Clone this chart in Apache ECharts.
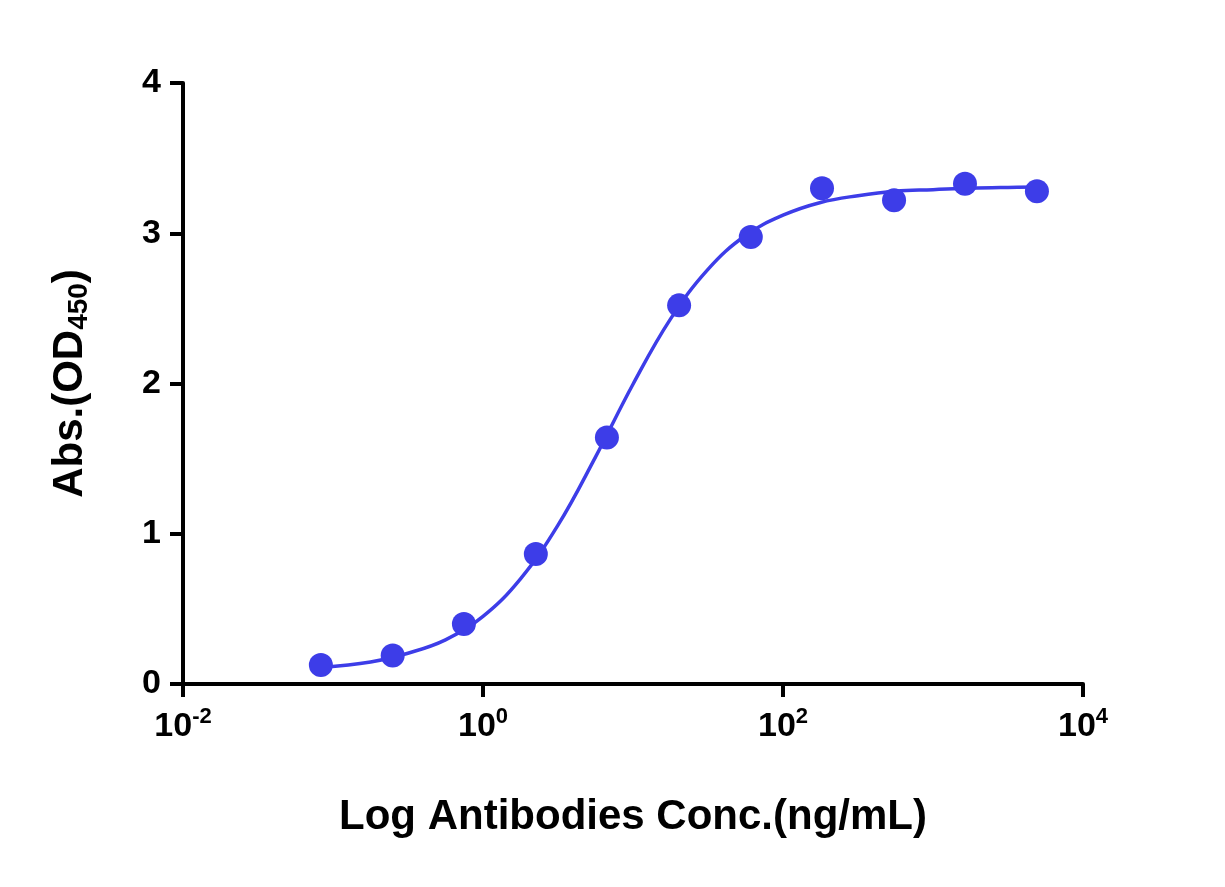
<!DOCTYPE html>
<html><head><meta charset="utf-8">
<script src="https://cdn.jsdelivr.net/npm/echarts@6/dist/echarts.min.js"></script>
<style>html,body{margin:0;padding:0;background:#fff}#c{width:1225px;height:887px}</style>
</head><body><div id="c"></div>
<script>
const concX = [0.083, 0.25, 0.746, 2.25, 6.7, 20.3, 61, 182, 550, 1634, 4930];
const absY = [0.126, 0.19, 0.40, 0.865, 1.64, 2.52, 2.975, 3.30, 3.22, 3.33, 3.28];
const curveX = [0.083, 0.178, 0.316, 0.562, 1, 1.778, 3.162, 5.62, 10, 17.8, 31.6, 56.2, 100, 178, 316, 562, 1000, 1778, 3162, 4930];
const curveY = [0.11, 0.147, 0.205, 0.294, 0.45, 0.70, 1.057, 1.51, 1.995, 2.43, 2.76, 2.985, 3.12, 3.205, 3.25, 3.28, 3.29, 3.30, 3.305, 3.307];
const yTicks = [0, 1, 2, 3, 4];
const color = '#3d3de8';
const font = 'Liberation Sans, Arial, sans-serif';
const chart = echarts.init(document.getElementById('c'));
chart.setOption({
  animation: false,
  grid: {left: 183, right: 142, top: 83, bottom: 203, containLabel: false},
  xAxis: {
    type: 'log', logBase: 10, min: 0.01, max: 10000, interval: 2,
    name: 'Log Antibodies Conc.(ng/mL)', nameLocation: 'middle', nameGap: 112,
    nameTextStyle: {fontSize: 42, fontWeight: 'bold', color: '#000', fontFamily: font},
    axisLine: {lineStyle: {color: '#000', width: 4}},
    axisTick: {length: 13, lineStyle: {width: 4, color: '#000'}},
    minorTick: {show: false}, splitLine: {show: false},
    axisLabel: {margin: 22, formatter: v => '{b|10}{s|' + Math.round(Math.log10(v)) + '}',
      rich: {b: {fontSize: 34, fontWeight: 'bold', color: '#000', fontFamily: font},
             s: {fontSize: 22, fontWeight: 'bold', color: '#000', fontFamily: font, verticalAlign: 'top', padding: [0,0,20,0]}}}
  },
  yAxis: {
    type: 'value', min: 0, max: 4, interval: 1,
    name: '{b|Abs.(OD}{s|450}{b|)}', nameLocation: 'middle', nameGap: 90,
    nameTextStyle: {rich: {b: {fontSize: 42, fontWeight: 'bold', color: '#000', fontFamily: font},
      s: {fontSize: 28, fontWeight: 'bold', color: '#000', fontFamily: font, padding: [18,0,0,0]}}},
    axisLine: {show: true, lineStyle: {color: '#000', width: 4}},
    axisTick: {show: true, length: 13, lineStyle: {width: 4, color: '#000'}},
    splitLine: {show: false},
    axisLabel: {margin: 22, fontSize: 34, fontWeight: 'bold', color: '#000', fontFamily: font,
      formatter: v => yTicks.includes(v) ? String(v) : ''}
  },
  series: [
    {type: 'line', data: curveX.map((x, i) => [x, curveY[i]]), smooth: 0.4, showSymbol: false,
     lineStyle: {color: color, width: 3.5}, z: 2},
    {type: 'scatter', data: concX.map((x, i) => [x, absY[i]]), symbolSize: 24,
     itemStyle: {color: color, opacity: 1}, z: 3}
  ]
});
</script></body></html>
